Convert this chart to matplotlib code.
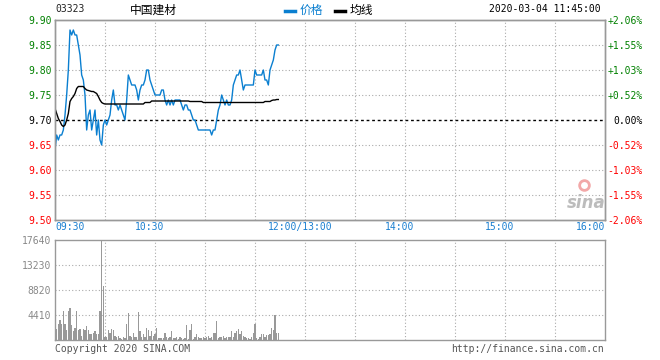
import matplotlib
matplotlib.use('Agg')
import numpy as np
import matplotlib.pyplot as plt
import matplotlib.transforms as mtransforms
from matplotlib.lines import Line2D

plt.rcParams['font.family'] = ['DejaVu Sans Mono', 'Noto Sans CJK SC']

# header
stock_code = '03323'
stock_name = '中国建材'
timestamp = '2020-03-04 11:45:00'
legend_names = ['价格', '均线']

# one value per minute from 09:30
price = [
    9.64, 9.67, 9.66, 9.67, 9.67, 9.68, 9.71, 9.75, 9.80, 9.88,
    9.87, 9.88, 9.87, 9.87, 9.85, 9.83, 9.79, 9.78, 9.75, 9.68,
    9.71, 9.72, 9.68, 9.70, 9.72, 9.67, 9.70, 9.66, 9.65, 9.69,
    9.70, 9.69, 9.70, 9.71, 9.74, 9.76, 9.73, 9.73, 9.72, 9.73,
    9.72, 9.71, 9.70, 9.74, 9.79, 9.78, 9.77, 9.77, 9.77, 9.76,
    9.74, 9.76, 9.77, 9.77, 9.78, 9.80, 9.80, 9.78, 9.77, 9.76,
    9.75, 9.75, 9.75, 9.75, 9.76, 9.76, 9.74, 9.73, 9.74, 9.73,
    9.74, 9.73, 9.74, 9.74, 9.74, 9.74, 9.73, 9.72, 9.73, 9.73,
    9.72, 9.72, 9.71, 9.70, 9.70, 9.69, 9.68, 9.68, 9.68, 9.68,
    9.68, 9.68, 9.68, 9.68, 9.67, 9.68, 9.68, 9.70, 9.72, 9.73,
    9.75, 9.74, 9.73, 9.74, 9.73, 9.73, 9.74, 9.77, 9.78, 9.79,
    9.79, 9.80, 9.78, 9.76, 9.77, 9.77, 9.77, 9.77, 9.77, 9.77,
    9.80, 9.79, 9.79, 9.79, 9.79, 9.80, 9.78, 9.78, 9.77, 9.80,
    9.81, 9.82, 9.84, 9.85, 9.85,
]

avg_price = [
    9.723, 9.713, 9.703, 9.697, 9.690, 9.687, 9.690, 9.700, 9.713, 9.737,
    9.743, 9.747, 9.753, 9.763, 9.767, 9.767, 9.767, 9.767, 9.763, 9.760,
    9.759, 9.758, 9.757, 9.757, 9.755, 9.753, 9.747, 9.740, 9.735, 9.733,
    9.732, 9.732, 9.732, 9.732, 9.732, 9.732, 9.732, 9.732, 9.732, 9.732,
    9.732, 9.732, 9.732, 9.732, 9.732, 9.732, 9.732, 9.732, 9.732, 9.732,
    9.732, 9.732, 9.732, 9.732, 9.735, 9.735, 9.735, 9.735, 9.738, 9.738,
    9.738, 9.738, 9.738, 9.738, 9.738, 9.738, 9.738, 9.738, 9.738, 9.738,
    9.738, 9.738, 9.738, 9.738, 9.738, 9.738, 9.738, 9.738, 9.738, 9.738,
    9.738, 9.737, 9.737, 9.737, 9.737, 9.737, 9.737, 9.737, 9.737, 9.735,
    9.735, 9.735, 9.735, 9.735, 9.735, 9.735, 9.735, 9.735, 9.735, 9.735,
    9.735, 9.735, 9.735, 9.735, 9.735, 9.735, 9.735, 9.735, 9.735, 9.735,
    9.735, 9.735, 9.735, 9.735, 9.735, 9.735, 9.735, 9.735, 9.735, 9.735,
    9.735, 9.735, 9.735, 9.735, 9.735, 9.735, 9.737, 9.737, 9.737, 9.737,
    9.739, 9.740, 9.740, 9.741, 9.741,
]

volume = [
    1200, 1900, 2900, 3600, 2800, 5200, 2900, 1800, 5100, 5600,
    2600, 1500, 2200, 5100, 1800, 1900, 700, 1900, 1800, 2500,
    1800, 1100, 1100, 1300, 1600, 1100, 1000, 5100, 17600, 9500,
    600, 500, 1800, 1200, 1900, 1800, 700, 600, 700, 300,
    200, 600, 300, 2900, 4700, 700, 500, 1200, 600, 500,
    4900, 1500, 600, 1000, 500, 2100, 1800, 700, 1500, 700,
    1100, 2200, 400, 300, 400, 300, 1200, 500, 300, 600,
    1500, 300, 300, 500, 200, 600, 300, 200, 400, 2600,
    100, 1800, 2800, 200, 500, 1100, 600, 300, 300, 600,
    400, 500, 700, 400, 600, 1300, 1300, 3400, 300, 600,
    500, 700, 300, 600, 600, 500, 1500, 600, 1200, 1500,
    1900, 1100, 1500, 700, 600, 400, 300, 200, 500, 1200,
    2800, 300, 200, 600, 1100, 1100, 600, 900, 900, 1100,
    2200, 1800, 4400, 1300, 1200,
]

prev_close = 9.70
price_ticks = [9.90, 9.85, 9.80, 9.75, 9.70, 9.65, 9.60, 9.55, 9.50]
price_labels = ['9.90', '9.85', '9.80', '9.75', '9.70', '9.65', '9.60', '9.55', '9.50']
pct_labels = ['+2.06%', '+1.55%', '+1.03%', '+0.52%', '0.00%',
              '-0.52%', '-1.03%', '-1.55%', '-2.06%']
vol_ticks = [17640, 13230, 8820, 4410]
vol_labels = ['17640', '13230', '8820', '4410']

# minutes since 09:30 with the lunch break removed
time_pos = [0, 60, 150, 210, 270, 330]
time_labels = ['09:30', '10:30', '12:00/13:00', '14:00', '15:00', '16:00']

BLUE = '#0a7fd0'
GRID = '#aaaaaa'
FRAME = '#999999'
UP, FLAT, DOWN = '#008000', '#000000', '#ff0000'


def tick_color(v):
    if v > prev_close + 1e-9:
        return UP
    if v < prev_close - 1e-9:
        return DOWN
    return FLAT


W, H = 660, 360
fig = plt.figure(figsize=(W / 100, H / 100), dpi=100)
fig.patch.set_facecolor('white')


def fx(px):
    return px / W


def fy(py):
    return 1 - py / H


ax = fig.add_axes([fx(55), fy(220), fx(550), 200 / H])
axv = fig.add_axes([fx(55), fy(340), fx(550), 100 / H])

# ---- price panel ----
x = np.arange(len(price))
ax.set_xlim(0, 330)
ax.set_ylim(9.50, 9.90)
for t in range(30, 330, 30):
    ax.axvline(t, color=GRID, lw=0.8, ls=(0, (1, 2)), zorder=1)
for v in price_ticks[1:-1]:
    if abs(v - prev_close) < 1e-9:
        ax.axhline(v, color='black', lw=1.0, ls=(0, (2, 2)), zorder=2)
    else:
        ax.axhline(v, color=GRID, lw=0.8, ls=(0, (1, 2)), zorder=1)

ax.plot(x, price, color=BLUE, lw=1.0, zorder=3)
ax.plot(np.arange(len(avg_price)), avg_price, color='black', lw=1.0, zorder=4)

ax.set_xticks([])
ax.set_yticks(price_ticks)
ax.set_yticklabels(price_labels, fontsize=7)
ax.tick_params(axis='y', length=0, pad=2)
for lab, v in zip(ax.get_yticklabels(), price_ticks):
    lab.set_color(tick_color(v))

ax2 = ax.twinx()
ax2.set_ylim(9.50, 9.90)
ax2.set_yticks(price_ticks)
ax2.set_yticklabels(pct_labels, fontsize=7)
ax2.tick_params(axis='y', length=0, pad=27)
for lab, v in zip(ax2.get_yticklabels(), price_ticks):
    lab.set_color(tick_color(v))
    lab.set_horizontalalignment('right')

for a in (ax, ax2, axv):
    for s in a.spines.values():
        s.set_color(FRAME)
        s.set_linewidth(1.0)

# time axis labels between panels
trans = mtransforms.blended_transform_factory(ax.transData, ax.transAxes)
aligns = ['left', 'center', 'center', 'center', 'center', 'right']
shifts = [0, -3, -3, -3, -3, 0]
for pos, lab, ha, sh in zip(time_pos, time_labels, aligns, shifts):
    ax.text(pos + sh, -0.035, lab, transform=trans, ha=ha, va='center',
            fontsize=7, color='#1a7fd0')

# sina watermark
ax.text(0.965, 0.085, 'sina', transform=ax.transAxes, ha='center', va='center',
        fontsize=12, fontstyle='italic', fontweight='bold', color='#bcbcbc',
        family='DejaVu Sans')
ax.plot([0.962], [0.175], transform=ax.transAxes, marker='o', ms=7,
        mfc='none', mec='#f2a8a8', mew=2, zorder=2)

# ---- volume panel ----
axv.set_xlim(0, 330)
axv.set_ylim(0, 17640)
for t in range(30, 330, 30):
    axv.axvline(t, color=GRID, lw=0.8, ls=(0, (1, 2)), zorder=1)
for v in vol_ticks[1:]:
    axv.axhline(v, color=GRID, lw=0.8, ls=(0, (1, 2)), zorder=1)
axv.bar(np.arange(len(volume)), volume, width=0.7, color='#999999', zorder=2)
axv.set_xticks([])
axv.set_yticks(vol_ticks)
axv.set_yticklabels(vol_labels, fontsize=7, color='#888888')
axv.tick_params(axis='y', length=0, pad=3)

# ---- header ----
fig.text(fx(55), fy(9), stock_code, fontsize=7, color='#222222', va='center')
fig.text(fx(153), fy(10), stock_name, fontsize=8.5, color='black', va='center',
         ha='center', family=['Noto Sans CJK SC', 'DejaVu Sans'])
fig.add_artist(Line2D([fx(285), fx(295)], [fy(11), fy(11)], color=BLUE, lw=2.5))
fig.text(fx(300), fy(10), legend_names[0], fontsize=8.5, color=BLUE, va='center',
         family=['Noto Sans CJK SC', 'DejaVu Sans'])
fig.add_artist(Line2D([fx(335), fx(345)], [fy(11), fy(11)], color='black', lw=2.5))
fig.text(fx(350), fy(10), legend_names[1], fontsize=8.5, color='black', va='center',
         family=['Noto Sans CJK SC', 'DejaVu Sans'])
fig.text(fx(601), fy(9), timestamp, fontsize=7, color='black', va='center', ha='right')

# ---- footer ----
fig.text(fx(55), fy(349), 'Copyright 2020 SINA.COM', fontsize=7, color='#555555',
         va='center')
fig.text(fx(604), fy(349), 'http://finance.sina.com.cn', fontsize=7, color='#555555',
         va='center', ha='right')

fig.savefig('out.png', dpi=100)
